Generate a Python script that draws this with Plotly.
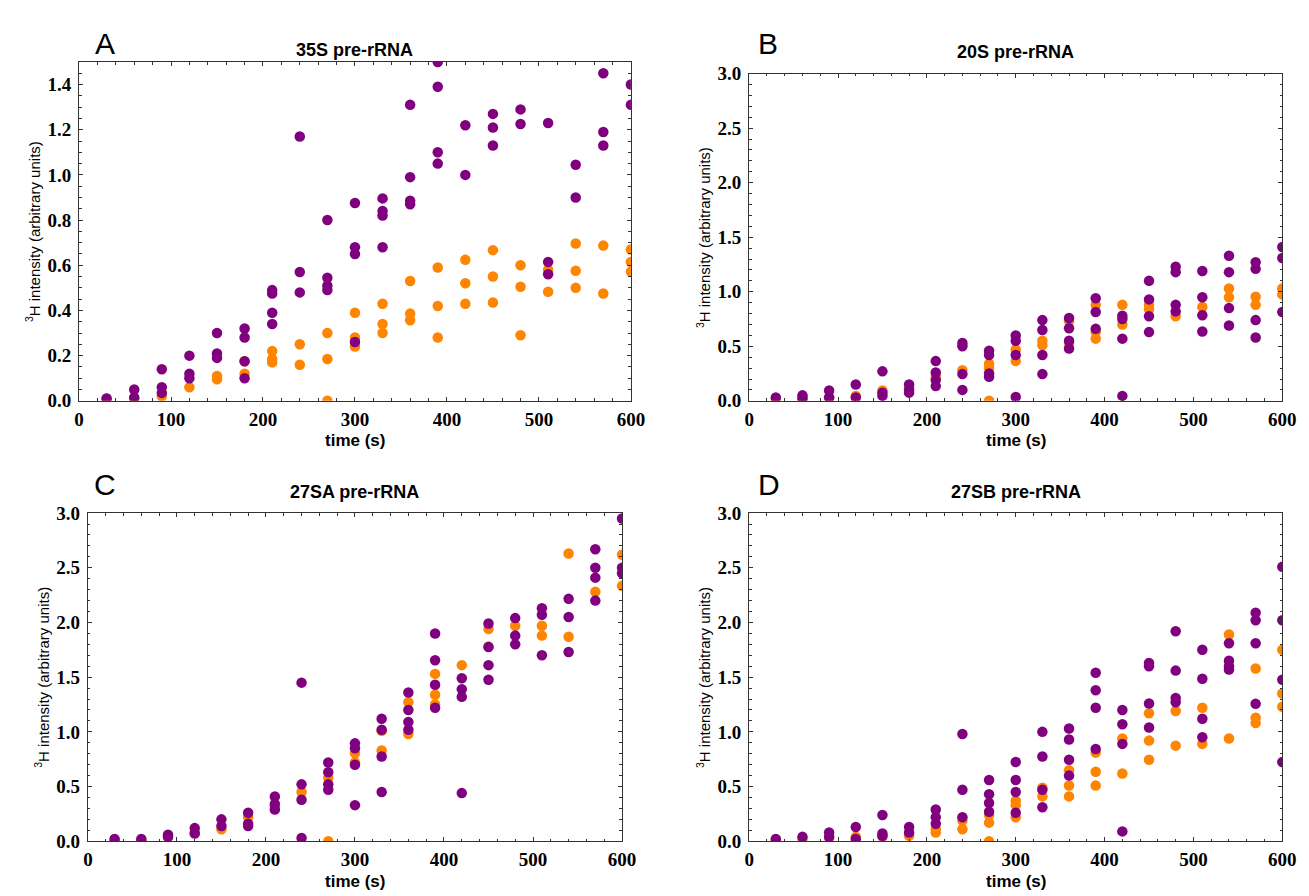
import plotly.graph_objects as go

times = [30, 60, 90, 120, 150, 180, 210, 240, 270, 300,
         330, 360, 390, 420, 450, 480, 510, 540, 570, 600]

# Panel A: 35S pre-rRNA
a_orange = [[0.01], [0.01], [0.02], [0.06], [0.11, 0.095], [0.175, 0.12],
            [0.22, 0.185, 0.17], [0.25, 0.16], [0.30, 0.185, 0.0],
            [0.39, 0.28, 0.24], [0.43, 0.34, 0.30], [0.53, 0.386, 0.357],
            [0.59, 0.42, 0.28], [0.624, 0.52, 0.43], [0.667, 0.55, 0.435],
            [0.60, 0.505, 0.29], [0.58, 0.483], [0.696, 0.576, 0.50],
            [0.687, 0.475], [0.67, 0.615, 0.572]]
a_purple = [[0.01], [0.05, 0.015], [0.14, 0.06, 0.035], [0.20, 0.12, 0.10],
            [0.30, 0.21, 0.19], [0.32, 0.28, 0.175, 0.10],
            [0.49, 0.475, 0.39, 0.34], [1.17, 0.57, 0.48],
            [0.80, 0.545, 0.51, 0.49], [0.876, 0.68, 0.65, 0.26],
            [0.896, 0.84, 0.82, 0.68], [1.31, 0.99, 0.886, 0.87],
            [1.50, 1.39, 1.10, 1.05], [1.22, 1.00], [1.27, 1.21, 1.13],
            [1.29, 1.225], [1.23, 0.615, 0.56], [1.045, 0.90],
            [1.45, 1.19, 1.13], [1.40, 1.31]]

# Panel B: 20S pre-rRNA
b_orange = [[0.02], [0.03], [0.03], [0.045], [0.095], [0.12], [0.22], [0.28],
            [0.34, 0.30, 0.0], [0.47, 0.364], [0.55, 0.51], [0.73, 0.53],
            [0.88, 0.63, 0.57], [0.88, 0.70], [0.88, 0.84], [0.776], [0.86],
            [1.03, 0.95], [0.955, 0.88], [1.03, 0.976]]
b_purple = [[0.03], [0.05, 0.02], [0.095, 0.03], [0.15, 0.03],
            [0.27, 0.075, 0.045], [0.15, 0.10, 0.075],
            [0.364, 0.26, 0.19, 0.135], [0.53, 0.50, 0.245, 0.10],
            [0.46, 0.42, 0.25, 0.22], [0.60, 0.55, 0.42, 0.035],
            [0.74, 0.65, 0.42, 0.245], [0.76, 0.665, 0.55, 0.48],
            [0.94, 0.815, 0.66], [0.78, 0.75, 0.57, 0.045],
            [1.10, 0.93, 0.776, 0.63], [1.23, 1.18, 0.88, 0.82],
            [1.19, 0.95, 0.785, 0.636], [1.33, 1.18, 0.85, 0.69],
            [1.27, 1.21, 0.74, 0.58], [1.41, 1.31, 0.815]]

# Panel C: 27SA pre-rRNA
c_orange = [[0.01], [0.01], [0.04], [0.08], [0.11], [0.22], [0.32], [0.45],
            [0.58, 0.0], [0.805, 0.72], [1.01, 0.83], [1.27, 0.98],
            [1.53, 1.34, 1.25], [1.61], [1.94, 1.78], [1.97], [1.97, 1.88],
            [2.63, 1.87], [2.28], [2.62, 2.335]]
c_purple = [[0.02], [0.02], [0.06, 0.04], [0.12, 0.07], [0.20, 0.14],
            [0.26, 0.16, 0.14], [0.41, 0.34, 0.29], [1.45, 0.52, 0.38, 0.03],
            [0.72, 0.63, 0.52, 0.47], [0.895, 0.85, 0.70, 0.33],
            [1.12, 1.02, 0.775, 0.45], [1.36, 1.20, 1.09, 1.02],
            [1.90, 1.655, 1.43, 1.22], [1.49, 1.39, 1.32, 0.44],
            [1.99, 1.775, 1.61, 1.476], [2.04, 1.88, 1.80],
            [2.13, 2.07, 1.70], [2.216, 2.05, 1.73],
            [2.67, 2.50, 2.41, 2.20], [2.95, 2.50, 2.45]]

# Panel D: 27SB pre-rRNA
d_orange = [[0.01], [0.02], [0.03], [0.04], [0.04], [0.05], [0.11, 0.08],
            [0.19, 0.11], [0.24, 0.17, 0.0], [0.37, 0.33, 0.22], [0.49, 0.41],
            [0.65, 0.51, 0.41], [0.81, 0.635, 0.51], [0.94, 0.62],
            [1.17, 0.92, 0.745], [1.19, 0.874], [1.22, 0.89], [1.89, 0.94],
            [1.58, 1.13, 1.08], [1.75, 1.35, 1.23]]
d_purple = [[0.02], [0.04], [0.08, 0.04], [0.13, 0.02], [0.24, 0.07, 0.05],
            [0.13, 0.08], [0.29, 0.22, 0.16], [0.98, 0.47, 0.22],
            [0.56, 0.43, 0.35, 0.27], [0.725, 0.56, 0.45, 0.26],
            [1.00, 0.775, 0.47, 0.31], [1.03, 0.93, 0.745, 0.60],
            [1.54, 1.38, 1.22, 0.844], [1.20, 1.07, 0.89, 0.09],
            [1.63, 1.60, 1.26, 1.04], [1.92, 1.56, 1.31, 1.27],
            [1.75, 1.485, 1.12, 0.95], [1.81, 1.65, 1.60, 1.57],
            [2.09, 2.02, 1.81, 1.256], [2.51, 2.02, 1.476, 0.725]]

panel_letters = ["A", "B", "C", "D"]
panel_titles = ["35S pre-rRNA", "20S pre-rRNA", "27SA pre-rRNA", "27SB pre-rRNA"]
y_max = [1.5, 3.0, 3.0, 3.0]
y_major = [0.2, 0.5, 0.5, 0.5]
y_minor = [0.05, 0.1, 0.1, 0.1]
x_title = "time (s)"
y_title = "<sup>3</sup>H intensity (arbitrary units)"

ORANGE = "#ff8400"
PURPLE = "#800080"
W, H = 1309, 896

# plot-area rectangles in pixels: left, right, top, bottom
rects = [(67, 627, 45, 392), (747, 1288, 57, 392),
         (76, 618, 507, 843), (747, 1288, 507, 843)]
title_y = [33, 35, 485, 485]
letter_xy = [(93, 26), (766, 26), (93, 478), (767, 478)]

def flatten(vals):
    xs, ys = [], []
    for t, v in zip(times, vals):
        for y in v:
            xs.append(t)
            ys.append(y)
    return xs, ys

data = [(a_orange, a_purple), (b_orange, b_purple),
        (c_orange, c_purple), (d_orange, d_purple)]

fig = go.Figure()
tick_font = dict(family="Liberation Serif", size=19, color="black", weight="bold")

for i, ((orange, purple), (l, r, t, b)) in enumerate(zip(data, rects)):
    xa = "x" if i == 0 else f"x{i+1}"
    ya = "y" if i == 0 else f"y{i+1}"
    for vals, col in ((orange, ORANGE), (purple, PURPLE)):
        xs, ys = flatten(vals)
        fig.add_trace(go.Scatter(x=xs, y=ys, mode="markers", xaxis=xa, yaxis=ya,
                                 marker=dict(size=10.5, color=col, line=dict(width=0)),
                                 showlegend=False))
    xkey = "xaxis" if i == 0 else f"xaxis{i+1}"
    ykey = "yaxis" if i == 0 else f"yaxis{i+1}"
    fig.layout[xkey] = dict(
        domain=[l / W, r / W], anchor=ya, range=[0, 600],
        tickmode="linear", tick0=0, dtick=100,
        ticks="inside", ticklen=4, tickwidth=1, tickcolor="#333",
        minor=dict(dtick=20, ticks="inside", ticklen=2.5, tickcolor="#333", showgrid=False),
        showline=True, linecolor="#333", linewidth=1.2, mirror="ticks",
        showgrid=False, zeroline=False, tickfont=tick_font, ticklabelstandoff=1,
    )
    fig.layout[ykey] = dict(
        domain=[1 - b / H, 1 - t / H], anchor=xa, range=[0, y_max[i]],
        tickmode="linear", tick0=0, dtick=y_major[i], tickformat=".1f",
        ticks="inside", ticklen=4, tickwidth=1, tickcolor="#333",
        minor=dict(dtick=y_minor[i], ticks="inside", ticklen=2.5, tickcolor="#333", showgrid=False),
        showline=True, linecolor="#333", linewidth=1.2, mirror="ticks",
        showgrid=False, zeroline=False, tickfont=tick_font, ticklabelstandoff=3,
    )
    cx = (l + r) / 2
    # panel title
    fig.add_annotation(x=cx / W, y=1 - title_y[i] / H, xref="paper", yref="paper",
                       text=f"<b>{panel_titles[i]}</b>", showarrow=False,
                       xanchor="center", yanchor="middle",
                       font=dict(family="Liberation Sans", size=18, color="black"))
    # panel letter
    lx, ly = letter_xy[i]
    fig.add_annotation(x=lx / W, y=1 - ly / H,
                       xref="paper", yref="paper", text=panel_letters[i], showarrow=False,
                       xanchor="center", yanchor="middle",
                       font=dict(family="Liberation Sans", size=30, color="black"))
    # x title
    fig.add_annotation(x=cx / W, y=1 - (b + 41) / H, xref="paper", yref="paper",
                       text=f"<b>{x_title}</b>", showarrow=False,
                       xanchor="center", yanchor="middle",
                       font=dict(family="Liberation Sans", size=17, color="black"))
    # y title
    fig.add_annotation(x=(l - 47) / W, y=1 - ((t + b) / 2) / H, xref="paper", yref="paper",
                       text=y_title, showarrow=False, textangle=-90,
                       xanchor="center", yanchor="middle",
                       font=dict(family="Liberation Sans", size=15, color="black"))

fig.update_layout(width=W, height=H, margin=dict(l=0, r=0, t=0, b=0),
                  plot_bgcolor="white", paper_bgcolor="white")
fig.write_html("out.html")
